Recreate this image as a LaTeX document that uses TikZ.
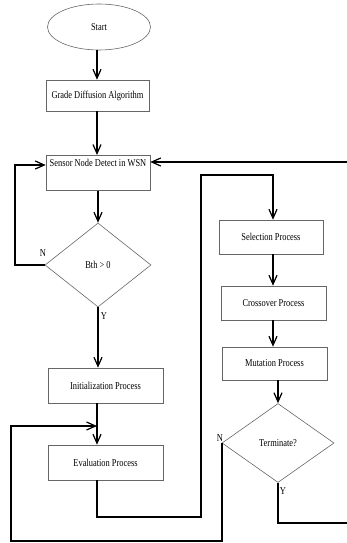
\documentclass[tikz,border=0pt]{standalone}
\usepackage{fontspec}
\setmainfont{Liberation Serif}[FakeStretch=0.8]
\usetikzlibrary{shapes.geometric,arrows.meta}
\tikzset{
  fc_term/.style={ellipse,draw=black!60,line width=0.6pt,minimum width=103pt,minimum height=46pt,inner sep=0pt},
  fc_proc/.style={rectangle,draw=black!60,line width=0.6pt,minimum height=34pt,inner sep=2pt,align=center},
  fc_dec/.style={diamond,draw=black!60,line width=0.6pt,aspect=1.3,inner sep=0pt},
  fc_lbl/.style={inner sep=0pt},
  arr/.style={-{Straight Barb[length=9pt,width=8pt,line width=1.2pt]},line width=1.7pt},
}

\begin{document}
\begin{tikzpicture}[x=1pt,y=-1pt,every node/.style={font=\fontsize{10.5}{12}\selectfont}]
  \useasboundingbox (0,0) rectangle (347,543);
  % main column
  \node (start)[fc_term] at (99,27) {Start};
  \node (grade)[fc_proc,minimum width=103pt,minimum height=31pt] at (97.5,95.5) {Grade Diffusion Algorithm};
  \node (sens) [fc_proc,minimum width=104pt,minimum height=0pt,anchor=north,
                text height=9pt,text depth=22pt] at (98,155) {Sensor Node Detect in WSN};
  \node (bth)  [fc_dec,minimum width=106pt,minimum height=84pt] at (98,265) {Bth > 0};
  \node (init) [fc_proc,minimum width=115pt,minimum height=35pt] at (105.5,385.5) {Initialization Process};
  \node (eval) [fc_proc,minimum width=115pt,minimum height=35pt] at (105.5,462.5) {Evaluation Process};
  % GA column
  \node (sel)  [fc_proc,minimum width=104pt] at (271,237) {Selection Process};
  \node (cross)[fc_proc,minimum width=105pt] at (273.5,303) {Crossover Process};
  \node (mut)  [fc_proc,minimum width=105pt,minimum height=33pt] at (274.5,363.5) {Mutation Process};
  \node (term) [fc_dec,minimum width=112pt,minimum height=79pt] at (278,443) {Terminate?};
  % branch labels
  \node (nb)[fc_lbl] at (43,253) {N};
  \node (yb)[fc_lbl] at (104,316) {Y};
  \node (nt)[fc_lbl] at (220,438) {N};
  \node (yt)[fc_lbl] at (283,491) {Y};
  % connectors
  \coordinate (cx) at (97,0);
  \coordinate (gx) at (273,0);
  \draw[arr] (start.south -| cx) -- (grade.north -| cx);
  \draw[arr] (grade.south -| cx) -- (sens.north -| cx);
  \draw[arr] (sens.south -| bth.north) -- (bth.north);
  \draw[arr] (bth.south) -- (bth.south |- init.north);
  \draw[arr] (init.south -| cx) -- (eval.north -| cx);
  \coordinate (nloop) at (15,165);
  \draw[arr] (bth.west) -| (nloop) -- (nloop -| sens.west);
  \coordinate (ga1) at (201,517);
  \coordinate (ga2) at (201,175);
  \draw[arr] (eval.south -| cx) |- (ga1) -- (ga2) -| (sel.north -| gx);
  \draw[arr] (sel.south -| gx) -- (cross.north -| gx);
  \draw[arr] (cross.south -| gx) -- (mut.north -| gx);
  \draw[arr] (mut.south -| term.north) -- (term.north);
  \coordinate (bl) at (11,541);
  \coordinate (ev) at (11,426);
  \draw[arr] (term.west) |- (bl) -- (ev) -- (ev -| cx);
  \coordinate (br) at (349,523);
  \coordinate (tr) at (349,162);
  \draw[arr] (term.south) |- (br) -- (tr) -- (tr -| sens.east);
\end{tikzpicture}
\end{document}
